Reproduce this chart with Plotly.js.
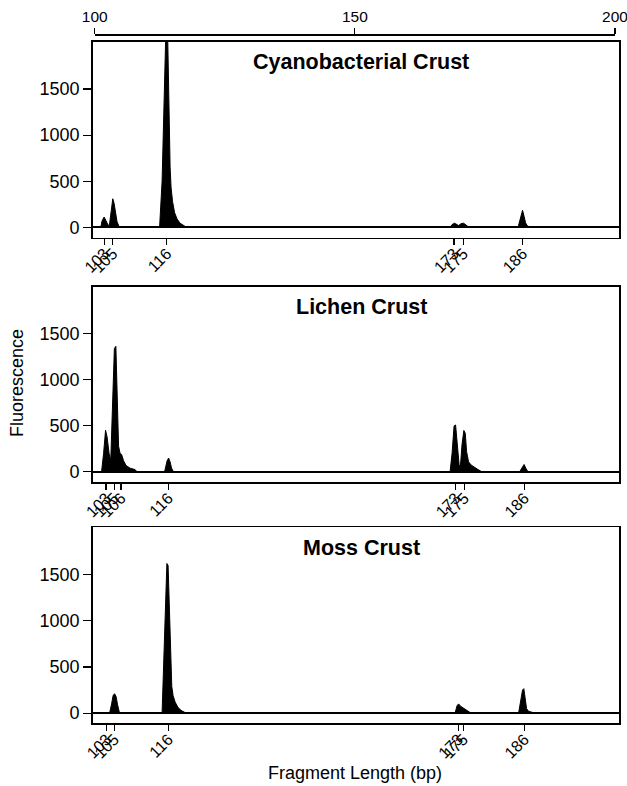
<!DOCTYPE html>
<html>
<head>
<meta charset="utf-8">
<script src="https://cdn.plot.ly/plotly-3.0.1.min.js"></script>
<style>html,body{margin:0;padding:0;background:#fff;}#chart{width:627px;height:786px;}</style>
</head>
<body>
<div id="chart"></div>
<script>
// Panel titles
const panelTitles = ['Cyanobacterial Crust', 'Lichen Crust', 'Moss Crust'];

// Cyanobacterial crust electropherogram (fragment size in bp, fluorescence)
const cyanoX = [99.7, 101.15, 101.4, 101.79, 102.17, 102.55, 102.8, 103.13, 103.46, 103.71, 104.0, 104.28, 104.73, 112.45, 112.93, 113.31, 113.6, 113.73, 113.93, 114.08, 114.27, 114.47, 114.66, 114.94, 115.33, 115.81, 116.39, 116.96, 117.63, 168.25, 168.63, 169.11, 169.59, 169.88, 170.36, 170.84, 171.32, 171.9, 181.31, 181.69, 181.98, 182.17, 182.46, 182.75, 183.04, 183.62, 200.6];
const cyanoY = [0, 0, 70, 112, 70, 25, 20, 200, 310, 260, 150, 60, 0, 0, 500, 1300, 2000, 2300, 2300, 1700, 1000, 650, 430, 280, 160, 90, 45, 20, 0, 0, 30, 45, 25, 20, 40, 45, 25, 0, 0, 80, 170, 185, 120, 50, 20, 0, 0];

// Lichen crust
const lichenX = [99.7, 101.3, 101.69, 102.07, 102.36, 102.75, 103.07, 103.42, 103.76, 104.05, 104.28, 104.57, 104.86, 105.15, 105.53, 106.01, 106.78, 107.74, 108.13, 113.41, 113.89, 114.18, 114.46, 114.75, 115.14, 168.25, 168.63, 169.02, 169.31, 169.59, 169.98, 170.23, 170.55, 170.9, 171.17, 171.42, 171.8, 172.28, 172.86, 173.63, 174.4, 181.6, 182.08, 182.46, 182.85, 183.23, 200.6];
const lichenY = [0, 0, 200, 452, 380, 200, 127, 700, 1340, 1365, 800, 280, 200, 190, 120, 70, 40, 25, 0, 0, 120, 150, 110, 40, 0, 0, 200, 500, 510, 300, 80, 55, 300, 450, 420, 220, 110, 75, 50, 25, 0, 0, 45, 80, 35, 0, 0];

// Moss crust
const mossX = [99.7, 102.84, 103.23, 103.52, 103.8, 104.09, 104.38, 104.76, 112.93, 113.31, 113.6, 113.85, 114.08, 114.33, 114.56, 114.79, 115.04, 115.43, 116.0, 116.58, 117.54, 169.21, 169.59, 169.88, 170.27, 170.75, 171.32, 171.9, 172.28, 181.41, 181.79, 182.17, 182.42, 182.65, 182.94, 183.32, 184.0, 184.58, 200.6];
const mossY = [0, 0, 100, 190, 210, 180, 90, 0, 0, 600, 1200, 1620, 1600, 1050, 600, 290, 190, 120, 60, 30, 0, 0, 80, 100, 75, 55, 35, 10, 0, 0, 120, 250, 265, 170, 50, 20, 10, 0, 0];

// Peak (fragment) tick labels and measured positions
const cyanoTickVals = [101.84, 103.46, 113.83, 169.02, 170.80, 182.21];
const cyanoTickText = ['103', '105', '116', '173', '175', '186'];
const lichenTickVals = [102.17, 103.71, 105.05, 114.14, 169.34, 171.0, 182.52];
const lichenTickText = ['103', '105', '106', '116', '173', '175', '186'];
const mossTickVals = [102.30, 103.76, 114.14, 169.84, 170.80, 182.52];
const mossTickText = ['103', '105', '116', '173', '175', '186'];

// Top scale and fluorescence ticks
const topTickVals = [100, 150, 200];
const yTickVals = [0, 500, 1000, 1500];

const W = 627, H = 786;
const FONT = 'Liberation Sans, Arial, Helvetica, sans-serif';
const px = v => v / W;
const py = v => 1 - v / H;

const xDom = [px(92.7), px(619)];
const panelsPx = [[41.5, 237.5], [286.5, 482], [527, 723.3]];
const xRange = [99.6, 200.7];
const yRange = [-110, 2015];

function peakTrace(x, y, xa, ya) {
  return {
    type: 'scatter', mode: 'lines', x: x, y: y, xaxis: xa, yaxis: ya,
    fill: 'tozeroy', fillcolor: '#000', line: {color: '#000', width: 1},
    hoverinfo: 'skip', showlegend: false
  };
}

const data = [
  peakTrace(cyanoX, cyanoY, 'x', 'y'),
  peakTrace(lichenX, lichenY, 'x2', 'y2'),
  peakTrace(mossX, mossY, 'x3', 'y3'),
  {type: 'scatter', mode: 'markers', x: [topTickVals[0]], y: [0], xaxis: 'x4', yaxis: 'y4',
   marker: {opacity: 0}, hoverinfo: 'skip', showlegend: false}
];

function xAxis(anchor, tv, tt) {
  return {
    domain: xDom, anchor: anchor, range: xRange, showgrid: false, zeroline: false,
    showline: true, mirror: true, linecolor: '#000', linewidth: 1.5,
    tickmode: 'array', tickvals: tv, ticktext: tt, tickangle: -45,
    ticks: 'outside', ticklen: 6, tickwidth: 1.2, tickcolor: '#000',
    ticklabelstandoff: -7,
    tickfont: {family: FONT, size: 16, color: '#000'}, fixedrange: true
  };
}
function yAxis(anchor, dom) {
  return {
    domain: dom, anchor: anchor, range: yRange, showgrid: false,
    zeroline: true, zerolinecolor: '#000', zerolinewidth: 2,
    showline: true, mirror: true, linecolor: '#000', linewidth: 1.5,
    tickmode: 'array', tickvals: yTickVals, ticks: 'outside', ticklen: 8, tickwidth: 1.2, tickcolor: '#000',
    tickfont: {family: FONT, size: 18, color: '#000'}, fixedrange: true
  };
}

const doms = panelsPx.map(p => [py(p[1]), py(p[0])]);

const layout = {
  width: W, height: H, margin: {l: 0, r: 0, t: 0, b: 0},
  paper_bgcolor: '#fff', plot_bgcolor: '#fff',
  font: {family: FONT, color: '#000'},
  showlegend: false,
  xaxis: xAxis('y', cyanoTickVals, cyanoTickText),
  xaxis2: xAxis('y2', lichenTickVals, lichenTickText),
  xaxis3: xAxis('y3', mossTickVals, mossTickText),
  yaxis: yAxis('x', doms[0]),
  yaxis2: yAxis('x2', doms[1]),
  yaxis3: yAxis('x3', doms[2]),
  xaxis4: {
    domain: [px(94.7), px(615)], anchor: 'y4', side: 'top', range: [100, 200],
    showgrid: false, zeroline: false, showline: true, linecolor: '#000', linewidth: 1.5,
    tickmode: 'array', tickvals: topTickVals, ticks: 'outside', ticklen: 6, tickwidth: 1.2, tickcolor: '#000',
    ticklabeloverflow: 'allow',
    tickfont: {family: FONT, size: 15.5, color: '#000'}, fixedrange: true
  },
  yaxis4: {domain: [py(38), py(35.7)], anchor: 'x4', visible: false, range: [0, 1], fixedrange: true},
  annotations: [
    ...panelTitles.map((t, i) => ({
      text: '<b>' + t + '</b>', xref: 'paper', yref: 'paper', x: px(361), y: py(panelsPx[i][0] + 21),
      xanchor: 'center', yanchor: 'middle', showarrow: false,
      font: {family: FONT, size: 21.5, color: '#000'}
    })),
    {text: 'Fluorescence', xref: 'paper', yref: 'paper', x: px(17), y: py(383), textangle: -90,
     xanchor: 'center', yanchor: 'middle', showarrow: false, font: {family: FONT, size: 18, color: '#000'}},
    {text: 'Fragment Length (bp)', xref: 'paper', yref: 'paper', x: px(355), y: py(773),
     xanchor: 'center', yanchor: 'middle', showarrow: false, font: {family: FONT, size: 18, color: '#000'}}
  ]
};

Plotly.newPlot('chart', data, layout, {displayModeBar: false, staticPlot: true});
</script>
</body>
</html>
